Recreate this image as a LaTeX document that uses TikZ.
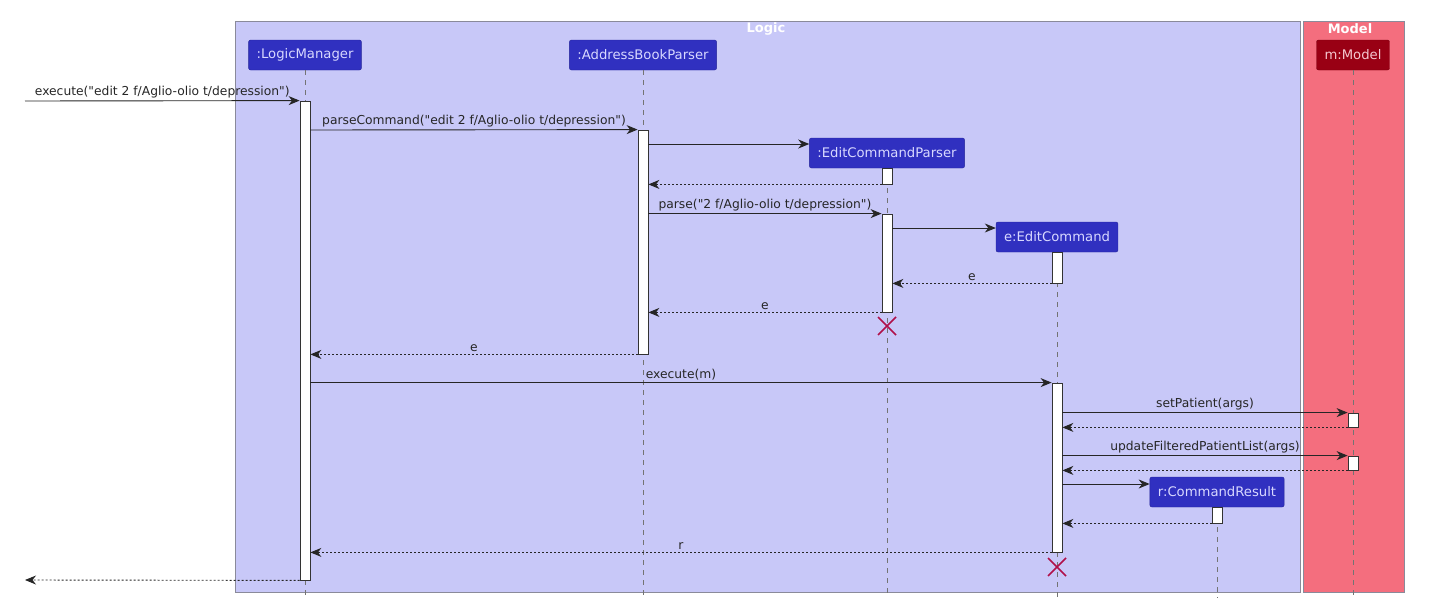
\documentclass[tikz,border=0pt]{standalone}
\usepackage{fontspec}
\setmainfont{DejaVu Sans}[Ligatures=TeXOff]
\usetikzlibrary{
arrows.meta,
positioning,
calc
}
\definecolor{LogicBg}{HTML}{C8C8F8}
\definecolor{ModelBg}{HTML}{F46E7E}
\definecolor{PartBlue}{HTML}{3030C0}
\definecolor{PartText}{HTML}{D8D8FF}
\definecolor{ModelRed}{HTML}{990014}
\definecolor{ModelText}{HTML}{F4C8D0}
\definecolor{BoxLine}{HTML}{8A8A9A}
\definecolor{KillRed}{HTML}{B0104A}

\begin{document}
\begin{tikzpicture}[
    x=1pt,
    y=-1pt,
    part/.style={
        draw=PartBlue!80!black,
        fill=PartBlue,
        text=PartText,
        rounded corners=2pt,
        minimum height=30,
        inner xsep=8pt,
        font=\fontsize{13.2}{15}\selectfont
    },
    actbar/.style={
        draw=black!80,
        fill=white,
        minimum width=10,
        inner sep=0pt,
        line width=0.8pt
    },
    lifeline/.style={
        black!55,
        dash pattern=on 5pt off 5pt,
        line width=0.8pt
    },
    call/.style={
        -{Stealth[length=11pt,width=9pt,inset=3.5pt]},
        line width=0.9pt,
        black!85
    },
    reply/.style={
        call,
        dash pattern=on 2pt off 2pt
    },
    lbl/.style={
        font=\fontsize{12.3}{14}\selectfont,
        text=black!85,
        above,
        inner sep=2pt
    },
    kill/.style={
        KillRed,
        line width=1.6pt
    }
]

\useasboundingbox (0,0) rectangle (1438,605);

% Boxes
\filldraw[
    fill=LogicBg,
    draw=BoxLine,
    line width=0.8pt
]
(235,21) rectangle (1300,592);

\filldraw[
    fill=ModelBg,
    draw=BoxLine,
    line width=0.8pt
]
(1303,21) rectangle (1404,592);

\node[
    font=\fontsize{13}{15}\selectfont\bfseries,
    text=white
] (logicTitle)
at (766,29)
{Logic};

\node[
    font=\fontsize{13}{15}\selectfont\bfseries,
    text=white
] (modelTitle)
at (1350,29)
{Model};

% Participants
\node[part] (lm) at (305,55) {:LogicManager};
\node[part] (abp) at (643,55) {:AddressBookParser};
\node[part] (ecp) at (887,153) {:EditCommandParser};
\node[part] (ec) at (1057,237) {e:EditCommand};
\node[part] (cr) at (1217,492) {r:CommandResult};
\node[
    part,
    fill=ModelRed,
    draw=ModelRed!80!black,
    text=ModelText
] (mdl) at (1353,55) {m:Model};

% Lifelines
\foreach \p in {lm,abp,ecp,ec,cr,mdl}{
    \draw[lifeline] (\p.south) -- (\p.south |- 0,598);
}

% Activation bars
\foreach \n/\x/\ya/\yb in {
lm1/305/101/580,
abp1/643/130/354,
ecp1/887/168/184,
ecp2/887/214/312,
ec1/1057/252/283,
ec2/1057/383/552,
mdl1/1353/413/427,
mdl2/1353/456/470,
cr1/1217/507/523
}{
    \node[
        actbar,
        minimum height=\yb-\ya
    ] (\n)
    at (\x,{(\ya+\yb)/2})
    {};
}

% Gates
\coordinate (gateIn) at (25,101);
\coordinate (gateOut) at (25,580);

% Messages
\draw[call] (gateIn) -- (lm1.north west)
node[lbl, midway] {execute("edit 2 f/Aglio-olio t/depression")};

\draw[call] (lm1.east |- 0,130) -- (abp1.north west)
node[lbl, midway] {parseCommand("edit 2 f/Aglio-olio t/depression")};

\draw[call] (abp1.east |- 0,144) -- (ecp.west |- 0,144);

\draw[reply] (ecp1.south west) -- (abp1.east |- ecp1.south);

\draw[call] (abp1.east |- ecp2.north) -- (ecp2.north west)
node[lbl, midway] {parse("2 f/Aglio-olio t/depression")};

\draw[call] (ecp2.east |- 0,228) -- (ec.west |- 0,228);

\draw[reply] (ec1.south west) -- (ecp2.east |- ec1.south)
node[lbl, midway] {e};

\draw[reply] (ecp2.south west) -- (abp1.east |- ecp2.south)
node[lbl, midway] {e};

\draw[reply] (abp1.south west) -- (lm1.east |- abp1.south)
node[lbl, midway] {e};

\draw[call] (lm1.east |- ec2.north) -- (ec2.north west)
node[lbl, midway] {execute(m)};

\draw[call] (ec2.east |- mdl1.north) -- (mdl1.north west)
node[lbl, midway] {setPatient(args)};

\draw[reply] (mdl1.south west) -- (ec2.east |- mdl1.south);

\draw[call] (ec2.east |- mdl2.north) -- (mdl2.north west)
node[lbl, midway] {updateFilteredPatientList(args)};

\draw[reply] (mdl2.south west) -- (ec2.east |- mdl2.south);

\draw[call] (ec2.east |- 0,484) -- (cr.west |- 0,484);

\draw[reply] (cr1.south west) -- (ec2.east |- cr1.south);

\draw[reply] (ec2.south west) -- (lm1.east |- ec2.south)
node[lbl, midway] {r};

\draw[reply] (lm1.south west) -- (gateOut);

% Destroyed objects
\foreach \x/\y in {887/326, 1057/567}{
    \draw[kill]
    (\x-9,\y-9) -- (\x+9,\y+9)
    (\x-9,\y+9) -- (\x+9,\y-9);
}

\end{tikzpicture}
\end{document}
